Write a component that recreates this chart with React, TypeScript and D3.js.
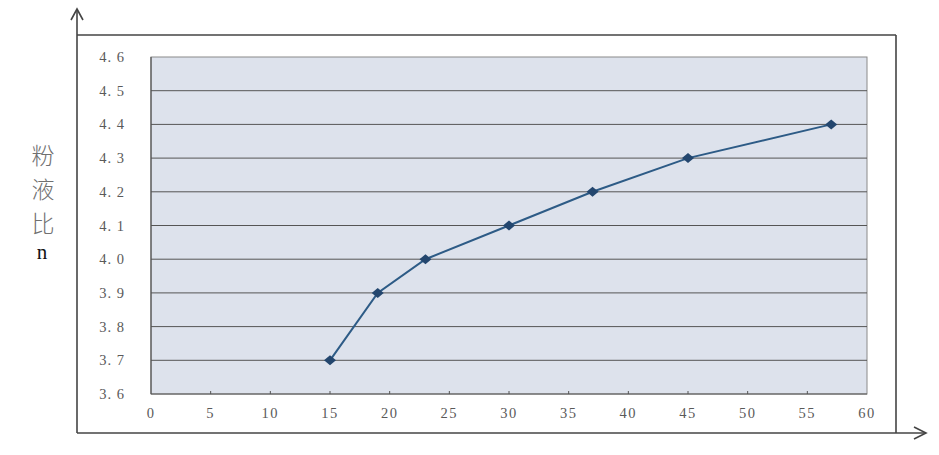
import React from 'react'
import * as d3 from 'd3'

const xValues = [15, 19, 23, 30, 37, 45, 57]
const yValues = [3.7, 3.9, 4.0, 4.1, 4.2, 4.3, 4.4]
const xTicks = [0, 5, 10, 15, 20, 25, 30, 35, 40, 45, 50, 55, 60]
const yTicks = [3.6, 3.7, 3.8, 3.9, 4.0, 4.1, 4.2, 4.3, 4.4, 4.5, 4.6]
const yTitle = ['粉', '液', '比']

const W = 939
const H = 455
const plot = { left: 151, top: 57, right: 867, bottom: 394 }

export default function App() {
  const x = d3.scaleLinear().domain([0, 60]).range([plot.left, plot.right])
  const y = d3.scaleLinear().domain([3.6, 4.6]).range([plot.bottom, plot.top])
  const points = xValues.map((v, i) => [x(v), y(yValues[i])] as [number, number])
  const line = d3.line()(points) || ''
  // flatter diamond, like the spreadsheet marker
  const diamond = 'M-6,0L0,-5L6,0L0,5Z'

  return (
    <svg
      width={W}
      height={H}
      style={{ position: 'absolute', left: 0, top: 0, background: '#fff' }}
    >
      {/* outer frame with arrows */}
      <g stroke="#444" strokeWidth={1.6} fill="none">
        <line x1={77} y1={10} x2={77} y2={433} />
        <line x1={77} y1={35} x2={896} y2={35} />
        <line x1={896} y1={35} x2={896} y2={433} />
        <line x1={77} y1={433} x2={925} y2={433} />
        <path d="M71,20 L77,9 L83,20" />
        <path d="M914,427 L926,433 L914,439" />
      </g>

      {/* plot background */}
      <rect
        x={plot.left}
        y={plot.top}
        width={plot.right - plot.left}
        height={plot.bottom - plot.top}
        fill="#dde2ec"
        stroke="#8a8a8a"
        strokeWidth={1}
      />

      {/* grid */}
      {yTicks.slice(1, -1).map((t) => (
        <line
          key={t}
          x1={plot.left}
          x2={plot.right}
          y1={y(t)}
          y2={y(t)}
          stroke="#555"
          strokeWidth={1}
        />
      ))}

      {/* axes */}
      <line x1={plot.left} x2={plot.right} y1={plot.bottom} y2={plot.bottom} stroke="#555" strokeWidth={1.2} />
      <line x1={plot.left} x2={plot.left} y1={plot.top} y2={plot.bottom} stroke="#555" strokeWidth={1.2} />
      {xTicks.slice(1, -1).map((t) => (
        <line key={t} x1={x(t)} x2={x(t)} y1={plot.bottom} y2={plot.bottom - 3} stroke="#555" />
      ))}

      {/* tick labels */}
      <g fontFamily="'Liberation Serif', 'DejaVu Serif', serif" fontSize={14.5} fill="#5a5a5a">
        {yTicks.map((t) => (
          <text key={t} x={112} y={y(t)} dy="0.35em" textAnchor="middle" letterSpacing={1}>
            {t.toFixed(1).replace('.', '. ')}
          </text>
        ))}
        {xTicks.map((t) => (
          <text key={t} x={x(t)} y={413} dy="0.35em" textAnchor="middle" letterSpacing={1.5}>
            {t}
          </text>
        ))}
      </g>

      {/* y title */}
      <g fontFamily="'Noto Sans CJK SC', sans-serif" fontSize={23} fill="#707070" fontWeight={300}>
        {yTitle.map((c, i) => (
          <text key={c} x={43} y={156 + i * 34} dy="0.35em" textAnchor="middle">
            {c}
          </text>
        ))}
      </g>
      <text x={42} y={252} dy="0.35em" textAnchor="middle" fontFamily="'Liberation Serif', serif" fontSize={21} fill="#111">
        n
      </text>

      {/* series */}
      <path d={line} fill="none" stroke="#2d5b86" strokeWidth={2} />
      {points.map(([px, py], i) => (
        <path key={i} d={diamond} transform={`translate(${px},${py})`} fill="#23466e" />
      ))}
    </svg>
  )
}
